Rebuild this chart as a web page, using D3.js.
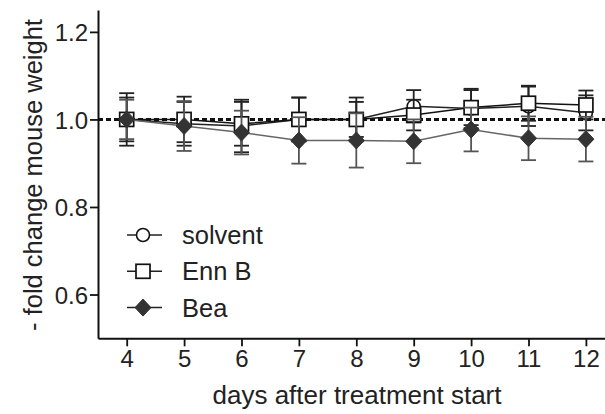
<!DOCTYPE html>
<html>
<head>
<meta charset="utf-8">
<script src="https://cdn.jsdelivr.net/npm/d3@7"></script>
<style>
  body { margin: 0; background: #fff; }
  svg { display: block; font-family: "Liberation Sans", Arial, sans-serif; }
</style>
</head>
<body>
<div id="chart"></div>
<script>
// days after treatment start
const days = [4, 5, 6, 7, 8, 9, 10, 11, 12];

// fold change of mouse weight, mean and error per day
const solvent = [1.0, 0.99, 0.985, 1.0, 1.0, 1.03, 1.025, 1.03, 1.015];
const solventErr = [0.06, 0.05, 0.06, 0.05, 0.05, 0.037, 0.045, 0.045, 0.04];
const ennB = [1.0, 1.0, 0.99, 1.0, 1.0, 1.01, 1.027, 1.037, 1.033];
const ennBErr = [0.05, 0.052, 0.05, 0.05, 0.04, 0.035, 0.04, 0.04, 0.033];
const bea = [1.0, 0.985, 0.97, 0.952, 0.952, 0.95, 0.977, 0.957, 0.955];
const beaErr = [0.045, 0.057, 0.05, 0.053, 0.062, 0.05, 0.05, 0.05, 0.051];

const yTicks = [0.6, 0.8, 1.0, 1.2];

const width = 605, height = 414;

const svg = d3.select("#chart")
    .append("svg")
    .attr("width", width)
    .attr("height", height);

const x = d3.scaleLinear().domain([3.5, 12.5]).range([98, 614.6]);
const y = d3.scaleLinear().domain([0.5, 1.25]).range([338.3, 10]);

// reference line at 1.0
svg.append("line")
    .attr("x1", x(3.5))
    .attr("x2", width)
    .attr("y1", y(1))
    .attr("y2", y(1))
    .attr("stroke", "#111")
    .attr("stroke-width", 3)
    .attr("stroke-dasharray", "5,3");

const series = [
    { name: "solvent", values: solvent, err: solventErr, shape: "circle", line: "#222", fill: "#fff", errColor: "#222" },
    { name: "Enn B", values: ennB, err: ennBErr, shape: "square", line: "#111", fill: "#fff", errColor: "#222" },
    { name: "Bea", values: bea, err: beaErr, shape: "diamond", line: "#666", fill: "#333", errColor: "#555" }
];

function drawMarker(g, shape, fill, stroke) {
    if (shape === "circle") {
        g.append("circle").attr("r", 6.5).attr("fill", fill).attr("stroke", stroke).attr("stroke-width", 1.6);
    } else if (shape === "square") {
        g.append("rect").attr("x", -7).attr("y", -7).attr("width", 14).attr("height", 14)
            .attr("fill", fill).attr("stroke", stroke).attr("stroke-width", 1.7);
    } else {
        g.append("path").attr("d", "M0,-8.5L8,0L0,8.5L-8,0Z").attr("fill", fill).attr("stroke", fill).attr("stroke-width", 1);
    }
}

const line = d3.line().x(d => x(d.day)).y(d => y(d.v));

series.forEach(s => {
    const pts = days.map((d, i) => ({ day: d, v: s.values[i], e: s.err[i] }));
    const g = svg.append("g");

    const eb = g.selectAll(".eb").data(pts).enter().append("g").attr("class", "eb")
        .attr("stroke", s.errColor).attr("stroke-width", 1.8);
    eb.append("line")
        .attr("x1", d => x(d.day)).attr("x2", d => x(d.day))
        .attr("y1", d => y(d.v + d.e)).attr("y2", d => y(d.v - d.e));
    eb.append("line")
        .attr("x1", d => x(d.day) - 7.5).attr("x2", d => x(d.day) + 7.5)
        .attr("y1", d => y(d.v + d.e)).attr("y2", d => y(d.v + d.e));
    eb.append("line")
        .attr("x1", d => x(d.day) - 7.5).attr("x2", d => x(d.day) + 7.5)
        .attr("y1", d => y(d.v - d.e)).attr("y2", d => y(d.v - d.e));

    g.append("path")
        .datum(pts)
        .attr("d", line)
        .attr("fill", "none")
        .attr("stroke", s.line)
        .attr("stroke-width", 1.5);

    g.selectAll(".mk").data(pts).enter().append("g").attr("class", "mk")
        .attr("transform", d => `translate(${x(d.day)},${y(d.v)})`)
        .each(function () { drawMarker(d3.select(this), s.shape, s.fill, "#111"); });
});

// axes
const yAxis = svg.append("g")
    .attr("transform", `translate(${x(3.5)},0)`)
    .call(d3.axisLeft(y).tickValues(yTicks).tickFormat(d3.format(".1f")).tickSize(8).tickSizeOuter(0));
const xAxis = svg.append("g")
    .attr("transform", `translate(0,${y(0.5)})`)
    .call(d3.axisBottom(x).tickValues(days).tickSize(8).tickSizeOuter(0));

[xAxis, yAxis].forEach(a => {
    a.select(".domain").attr("stroke", "#111").attr("stroke-width", 2);
    a.selectAll(".tick line").attr("stroke", "#111").attr("stroke-width", 1.8);
    a.selectAll(".tick text").attr("fill", "#222").style("font-size", "24px")
        .style("font-family", "'Liberation Sans', Arial, sans-serif");
});
yAxis.selectAll(".tick text").attr("x", -10).attr("dy", "0.36em");
xAxis.selectAll(".tick text").attr("y", 12);

svg.append("text")
    .attr("x", 357)
    .attr("y", 404)
    .attr("text-anchor", "middle")
    .attr("fill", "#222")
    .style("font-size", "26px")
    .text("days after treatment start");

svg.append("text")
    .attr("transform", "translate(42,175) rotate(-90)")
    .attr("text-anchor", "middle")
    .attr("fill", "#222")
    .style("font-size", "25.5px")
    .text("- fold change mouse weight");

// legend
const legend = svg.append("g");
series.forEach((s, i) => {
    const ly = 235 + i * 36.3;
    const item = legend.append("g").attr("transform", `translate(143,${ly})`);
    item.append("line").attr("x1", -16).attr("x2", 19).attr("stroke", "#222").attr("stroke-width", 1.5);
    drawMarker(item.append("g"), s.shape, s.fill, "#111");
    item.append("text")
        .attr("x", 39)
        .attr("dy", "0.36em")
        .attr("fill", "#222")
        .style("font-size", "25.5px")
        .text(s.name);
});
</script>
</body>
</html>
